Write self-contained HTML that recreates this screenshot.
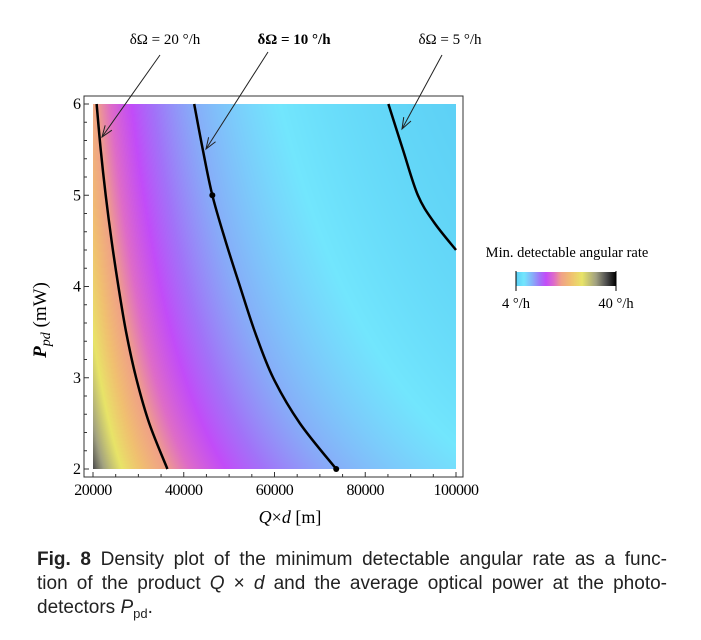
<!DOCTYPE html>
<html><head><meta charset="utf-8">
<style>
body{margin:0;background:#fff;width:701px;height:640px;overflow:hidden;position:relative;font-family:"Liberation Serif",serif}
.cap{position:absolute;left:37px;top:548px;width:630px;font:19px/24px "Liberation Sans",sans-serif;color:#222}
.cap div{text-align:justify;text-align-last:justify;white-space:nowrap}
.cap div.last{text-align-last:left}
</style></head><body>
<canvas id="dens" width="363" height="365" style="position:absolute;left:93px;top:104px"></canvas>
<svg id="ov" width="701" height="640" style="position:absolute;left:0;top:0" font-family="Liberation Serif, serif"></svg>
<div class="cap">
<div><b>Fig. 8</b> Density plot of the minimum detectable angular rate as a func-</div>
<div>tion of the product <i>Q</i> × <i>d</i> and the average optical power at the photo-</div>
<div class="last">detectors <i>P</i><sub style="font-size:13px">pd</sub>.</div>
</div>
<script>
const xTicks=[20000,40000,60000,80000,100000];
const yTicks=[2,3,4,5,6];
const levels=[20,10,5];
const levelLabels=["δΩ = 20 °/h","δΩ = 10 °/h","δΩ = 5 °/h"];
const c20Q=[20800,21700,22800,24100,25600,27300,29500,32400,36400];
const c20P=[6,5.5,5,4.5,4,3.5,3,2.5,2];
const c10Q=[42300,44200,46300,49200,52400,55700,59700,65600,73600];
const c10P=[6,5.5,5,4.5,4,3.5,3,2.5,2];
const c5Q=[85100,88300,91600,95200,100000];
const c5P=[6,5.5,5,4.7,4.4];
const dotQ=[46300,73600];
const dotP=[5,2];
const scaleC=1.03e6;
const X=q=>93+(q-20000)/80000*363;
const Y=p=>469-(p-2)/4*365;
const cv=document.getElementById('dens'),ctx=cv.getContext('2d');
const stops=[[0,'5ccff5'],[0.08,'72e6fd'],[0.17,'88aaf8'],[0.24,'a272f8'],[0.3,'c24cf8'],[0.38,'de6cc8'],[0.45,'f0a088'],[0.55,'f0c070'],[0.66,'e8e468'],[0.8,'a0a080'],[0.9,'505050'],[1,'000000']];
const hx=s=>[0,2,4].map(i=>parseInt(s.substr(i,2),16));
function cmap(t){t=Math.max(0,Math.min(1,t));for(let i=1;i<stops.length;i++){if(t<=stops[i][0]){const a=stops[i-1],b=stops[i],f=(t-a[0])/(b[0]-a[0]);const A=hx(a[1]),B=hx(b[1]);return A.map((v,k)=>v+(B[k]-v)*f);}}return [0,0,0];}
const img=ctx.createImageData(363,365);
for(let j=0;j<365;j++){const p=6-j/364*4;for(let i=0;i<363;i++){const q=20000+i/362*80000;const v=scaleC/(q*Math.sqrt(p));const c=cmap((v-4)/36);const o=(j*363+i)*4;img.data[o]=c[0];img.data[o+1]=c[1];img.data[o+2]=c[2];img.data[o+3]=255;}}
ctx.putImageData(img,0,0);
const svg=document.getElementById('ov');const NS='http://www.w3.org/2000/svg';
function el(t,a,txt){const e=document.createElementNS(NS,t);for(const k in a)e.setAttribute(k,a[k]);if(txt!=null)e.textContent=txt;svg.appendChild(e);return e;}
let e=el('rect',{x:84,y:96,width:379,height:381,fill:'none',stroke:'#333','stroke-width':1});


xTicks.forEach(t=>{
 const l=el('line',{x1:X(t),x2:X(t),y1:477,y2:472,stroke:'#333'});
 
 
 const tx=el('text',{x:X(t),y:495,'font-size':16,'text-anchor':'middle','letter-spacing':-0.5},t);
 
 
});
for(let q=25000;q<100000;q+=5000){if(q%20000){const l=el('line',{x1:X(q),x2:X(q),y1:477,y2:474,stroke:'#333'});}}
yTicks.forEach(t=>{
 const l=el('line',{x1:84,x2:89,y1:Y(t),y2:Y(t),stroke:'#333'});
 
 
 const tx=el('text',{x:81,y:Y(t)+5,'font-size':16,'text-anchor':'end'},t);
 
 
});
for(let p=2.2;p<6;p+=0.2){if(Math.abs(p-Math.round(p))>0.05){const l=el('line',{x1:84,x2:87,y1:Y(p),y2:Y(p),stroke:'#333'});}}
function curve(Q,P,name){
 const pts=Q.map((q,i)=>[X(q),Y(P[i])]);let d='M'+pts[0];
 for(let i=0;i<pts.length-1;i++){const p0=pts[i-1]||pts[i],p1=pts[i],p2=pts[i+1],p3=pts[i+2]||p2;
 d+=` C${p1[0]+(p2[0]-p0[0])/6},${p1[1]+(p2[1]-p0[1])/6} ${p2[0]-(p3[0]-p1[0])/6},${p2[1]-(p3[1]-p1[1])/6} ${p2[0]},${p2[1]}`;}
 const c=el('path',{d:d,fill:'none',stroke:'#000','stroke-width':2.5});
 
 }
curve(c20Q,c20P,'contour-20');curve(c10Q,c10P,'contour-10');curve(c5Q,c5P,'contour-5');
dotQ.forEach((q,i)=>{const c=el('circle',{cx:X(q),cy:Y(dotP[i]),r:3,fill:'#000'});});
const lab=[[165,levelLabels[0],'normal',[160,55,102,137]],[294,levelLabels[1],'bold',[268,52,206,149]],[450,levelLabels[2],'normal',[442,55,402,129]]];
lab.forEach(L=>{
 const t=el('text',{x:L[0],y:44,'font-size':15,'text-anchor':'middle','font-weight':L[2]},L[1]);
 
 
 const a=L[3];const ln=el('line',{x1:a[0],y1:a[1],x2:a[2],y2:a[3],stroke:'#222','stroke-width':1});
 
 
 const ang=Math.atan2(a[3]-a[1],a[2]-a[0]);const h=12;
 const pd=`M${a[2]-h*Math.cos(ang-0.35)},${a[3]-h*Math.sin(ang-0.35)} L${a[2]},${a[3]} L${a[2]-h*Math.cos(ang+0.35)},${a[3]-h*Math.sin(ang+0.35)}`;
 const hd=el('path',{d:pd,fill:'none',stroke:'#222','stroke-width':1});
 
 
});
let t=el('text',{x:290,y:523,'font-size':18,'text-anchor':'middle'});
t.innerHTML='<tspan font-style="italic">Q</tspan>×<tspan font-style="italic">d</tspan> [m]';


t=el('text',{x:0,y:0,'font-size':19,'text-anchor':'middle',transform:'translate(46,320) rotate(-90)'});
t.innerHTML='<tspan font-style="italic" font-weight="bold">P</tspan><tspan font-style="italic" font-size="14" dy="4">pd</tspan><tspan dy="-4"> (mW)</tspan>';


t=el('text',{x:567,y:257,'font-size':14.5,'text-anchor':'middle'},'Min. detectable angular rate');


const defs=el('defs',{});const g=document.createElementNS(NS,'linearGradient');g.setAttribute('id','lg');defs.appendChild(g);
stops.forEach(s=>{const st=document.createElementNS(NS,'stop');st.setAttribute('offset',s[0]);st.setAttribute('stop-color','#'+s[1]);g.appendChild(st);});
const r=el('rect',{x:516,y:272,width:100,height:14,fill:'url(#lg)'});


[[516,'4 °/h'],[616,'40 °/h']].forEach(a=>{
 const l=el('line',{x1:a[0],x2:a[0],y1:271,y2:291,stroke:'#000','stroke-width':1});
 
 
 const tx=el('text',{x:a[0],y:308,'font-size':14.5,'text-anchor':'middle'},a[1]);
 
 
});
</script>
</body></html>
